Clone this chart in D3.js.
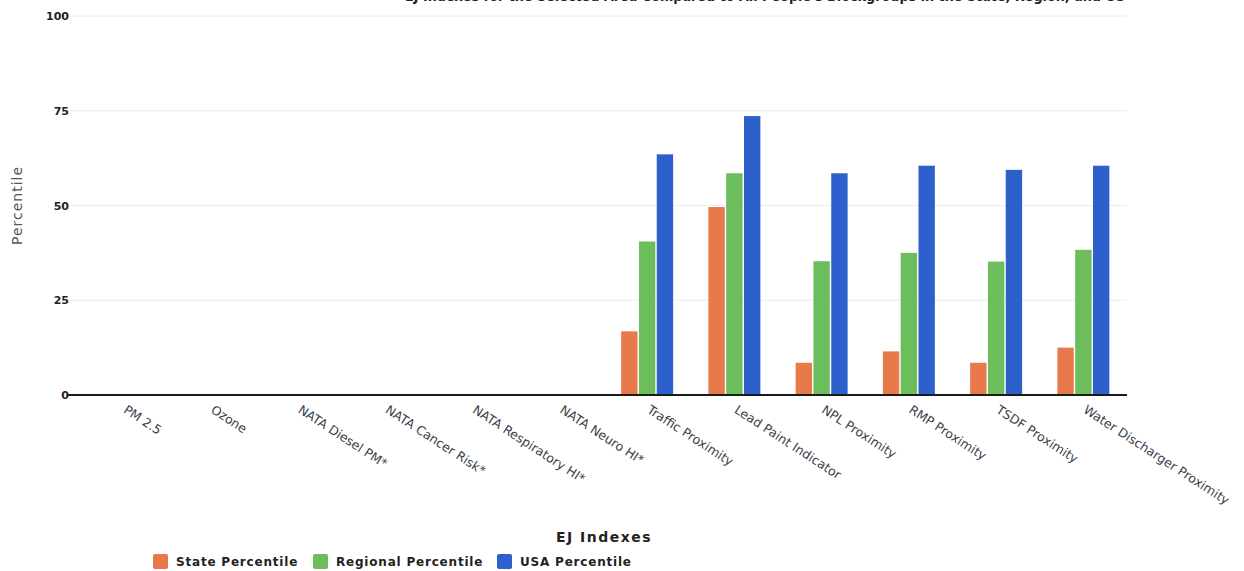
<!DOCTYPE html>
<html>
<head>
<meta charset="utf-8">
<script src="https://cdn.jsdelivr.net/npm/d3@7"></script>
<style>
  html, body { margin: 0; padding: 0; background: #fff; }
  svg { display: block; }
</style>
</head>
<body>
<svg id="chart" width="1244" height="571"></svg>
<script>
const categories = ["PM 2.5", "Ozone", "NATA Diesel PM*", "NATA Cancer Risk*", "NATA Respiratory HI*", "NATA Neuro HI*", "Traffic Proximity", "Lead Paint Indicator", "NPL Proximity", "RMP Proximity", "TSDF Proximity", "Water Discharger Proximity"];
const seriesNames = ["State Percentile", "Regional Percentile", "USA Percentile"];
const statePct    = [null, null, null, null, null, null, 16.8, 49.6, 8.5, 11.5, 8.5, 12.5];
const regionalPct = [null, null, null, null, null, null, 40.5, 58.5, 35.3, 37.5, 35.2, 38.3];
const usaPct      = [null, null, null, null, null, null, 63.5, 73.6, 58.5, 60.5, 59.4, 60.5];
const yTicks = [0, 25, 50, 75, 100];
const colors = ["#E8794B", "#6CBD5B", "#2E60CC"];
const titleText = "EJ Indexes for the Selected Area Compared to All People's Blockgroups in the State, Region, and US";

(function () {
const svg = d3.select("#chart");
const pLeft = 80, pRight = 1127, pTop = 16, pBottom = 395;

const x = d3.scaleBand().domain(categories).range([pLeft, pRight]);
const xi = d3.scaleBand().domain(seriesNames).range([0, 52]).paddingInner(0.08);
const y = d3.scaleLinear().domain([0, 100]).range([pBottom, pTop]);

// title (mostly cropped at top, as in the source image)
svg.append("text").attr("x", 405).attr("y", 1)
  .attr("font-family", "DejaVu Sans, sans-serif").attr("font-weight", "bold")
  .attr("font-size", 14).attr("fill", "#222")
  .attr("textLength", 720).attr("lengthAdjust", "spacingAndGlyphs")
  .text(titleText);

// gridlines
svg.append("g").selectAll("line").data(yTicks.filter(d => d > 0)).join("line")
  .attr("x1", 67).attr("x2", pRight).attr("y1", d => y(d)).attr("y2", d => y(d))
  .attr("stroke", "#ececec").attr("stroke-width", 1);

// y axis labels
const yAxis = d3.axisLeft(y).tickValues(yTicks).tickSize(0).tickPadding(0);
const yg = svg.append("g").attr("transform", "translate(69,0)").call(yAxis);
yg.select(".domain").remove();
yg.selectAll("text").attr("font-family", "DejaVu Sans, sans-serif").attr("font-weight", "bold")
  .attr("font-size", 11).attr("fill", "#222");

// bars
const seriesData = [statePct, regionalPct, usaPct];
const groups = svg.append("g").selectAll("g").data(categories).join("g")
  .attr("transform", d => `translate(${x(d) + (x.bandwidth() - 52) / 2},0)`);
groups.selectAll("rect").data((c, i) => seriesNames.map((s, k) => ({ s, k, v: seriesData[k][i] })).filter(d => d.v != null))
  .join("rect")
  .attr("x", d => xi(d.s)).attr("width", xi.bandwidth())
  .attr("y", d => y(d.v)).attr("height", d => y(0) - y(d.v))
  .attr("fill", d => colors[d.k]);

// baseline
svg.append("line").attr("x1", 67).attr("x2", pRight).attr("y1", y(0)).attr("y2", y(0))
  .attr("stroke", "#1a1a1a").attr("stroke-width", 2);

// x axis labels
const xAxis = d3.axisBottom(x).tickSize(0).tickPadding(0);
const xg = svg.append("g").attr("transform", `translate(0,${pBottom})`).call(xAxis);
xg.select(".domain").remove();
xg.selectAll("text")
  .attr("font-family", "DejaVu Sans, sans-serif").attr("font-size", 12.5).attr("fill", "#3a3f4a")
  .attr("text-anchor", "start").attr("dy", 0)
  .attr("transform", "translate(-1,17) rotate(33)");

// axis titles
svg.append("text").attr("transform", `translate(22,${y(50)}) rotate(-90)`)
  .attr("text-anchor", "middle").attr("font-family", "DejaVu Sans, sans-serif")
  .attr("font-size", 14).attr("letter-spacing", 1).attr("fill", "#555").text("Percentile");
svg.append("text").attr("x", 604).attr("y", 542).attr("text-anchor", "middle")
  .attr("font-family", "DejaVu Sans, sans-serif").attr("font-weight", "bold")
  .attr("font-size", 14).attr("letter-spacing", 1.5).attr("fill", "#222").text("EJ Indexes");

// legend
const legendX = [153, 313, 497];
const lg = svg.append("g").selectAll("g").data(seriesNames).join("g")
  .attr("transform", (d, i) => `translate(${legendX[i]},554)`);
lg.append("rect").attr("width", 15).attr("height", 15).attr("rx", 2).attr("fill", (d, i) => colors[i]);
lg.append("text").attr("x", 23).attr("y", 12).attr("font-family", "DejaVu Sans, sans-serif")
  .attr("font-weight", "bold").attr("font-size", 12).attr("letter-spacing", 0.8)
  .attr("fill", "#222").text(d => d);
})();
</script>
</body>
</html>
